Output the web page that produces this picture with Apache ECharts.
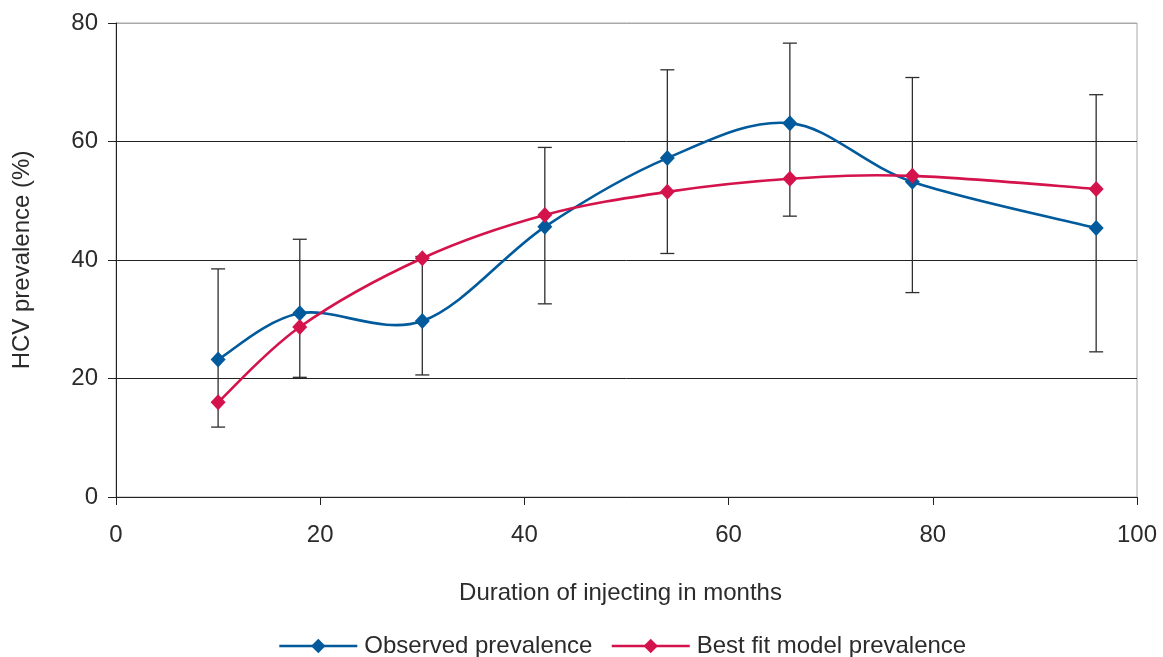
<!DOCTYPE html>
<html>
<head>
<meta charset="utf-8">
<script src="https://cdn.jsdelivr.net/npm/echarts@6/dist/echarts.min.js"></script>
<style>
html,body{margin:0;padding:0;background:#fff;}
#chart{width:1163px;height:657px;}
</style>
</head>
<body>
<div id="chart"></div>
<script>
const months = [10, 18, 30, 42, 54, 66, 78, 96];
const observed = [23.2, 31.0, 29.7, 45.6, 57.2, 63.1, 53.2, 45.4];
const bestFit = [16.0, 28.7, 40.3, 47.6, 51.5, 53.7, 54.2, 52.0];
const errLow = [11.8, 20.2, 20.6, 32.6, 41.1, 47.4, 34.5, 24.5];
const errHigh = [38.5, 43.5, 40.6, 59.0, 72.1, 76.6, 70.8, 67.9];
const seriesNames = ['Observed prevalence', 'Best fit model prevalence'];
const xTitle = 'Duration of injecting in months';
const yTitle = 'HCV prevalence (%)';

const FONT = 'Liberation Sans';
const TXT = '#2b2b2b';
const BLUE = '#005a9b';
const RED = '#d4134c';
const FS = 24;

const chart = echarts.init(document.getElementById('chart'), null, {renderer: 'canvas'});

const errData = months.map((m, i) => [m, errLow[i], errHigh[i]]);

// Segment rows for a Catmull-Rom (Excel-style) smoothed line:
// [xPrev, yPrev, x0, y0, x1, y1, xNext, yNext]
function segments(xs, ys) {
  const rows = [];
  const n = xs.length;
  for (let i = 0; i < n - 1; i++) {
    const p = Math.max(i - 1, 0);
    const q = Math.min(i + 2, n - 1);
    rows.push([xs[p], ys[p], xs[i], ys[i], xs[i + 1], ys[i + 1], xs[q], ys[q]]);
  }
  return rows;
}

function curveRenderer(color) {
  return function (params, api) {
    const a = api.coord([api.value(0), api.value(1)]);
    const b = api.coord([api.value(2), api.value(3)]);
    const c = api.coord([api.value(4), api.value(5)]);
    const d = api.coord([api.value(6), api.value(7)]);
    const k = 1 / 6;
    const cp1 = [b[0] + (c[0] - a[0]) * k, b[1] + (c[1] - a[1]) * k];
    const cp2 = [c[0] - (d[0] - b[0]) * k, c[1] - (d[1] - b[1]) * k];
    return {
      type: 'bezierCurve',
      shape: {x1: b[0], y1: b[1], x2: c[0], y2: c[1], cpx1: cp1[0], cpy1: cp1[1], cpx2: cp2[0], cpy2: cp2[1]},
      style: {stroke: color, lineWidth: 2.6, fill: null, lineCap: 'round'}
    };
  };
}

chart.setOption({
  animation: false,
  backgroundColor: '#fff',
  grid: {left: 116, right: 26, top: 23, bottom: 160, show: true, borderColor: '#a8a8a8', borderWidth: 1},
  legend: {
    bottom: -6,
    left: 273,
    data: seriesNames,
    itemWidth: 78,
    itemHeight: 18,
    itemGap: 18,
    lineStyle: {width: 2.6, opacity: 1},
    textStyle: {fontFamily: FONT, fontSize: FS, color: TXT, padding: [0, 0, 0, 2]}
  },
  xAxis: {
    type: 'value', min: 0, max: 100, interval: 20,
    name: xTitle, nameLocation: 'middle', nameGap: 84,
    nameTextStyle: {fontFamily: FONT, fontSize: FS, color: TXT, padding: [0, 12, 0, 0]},
    axisLine: {show: true, onZero: false, lineStyle: {color: '#222', width: 1}},
    axisTick: {show: true, length: 8, lineStyle: {color: '#222'}},
    axisLabel: {fontFamily: FONT, fontSize: FS, color: TXT, margin: 26},
    splitLine: {show: false}
  },
  yAxis: {
    type: 'value', min: 0, max: 80, interval: 20,
    name: yTitle, nameLocation: 'middle', nameGap: 82,
    nameTextStyle: {fontFamily: FONT, fontSize: FS, color: TXT},
    axisLine: {show: true, lineStyle: {color: '#222', width: 1}},
    axisTick: {show: true, length: 8, lineStyle: {color: '#222'}},
    axisLabel: {fontFamily: FONT, fontSize: FS, color: TXT, margin: 18},
    splitLine: {show: true, lineStyle: {color: ['#222', '#222', '#222', '#222', '#a8a8a8'], width: 1}}
  },
  series: [
    {
      type: 'custom',
      name: 'error',
      z: 1,
      silent: true,
      data: errData,
      encode: {x: 0, y: [1, 2]},
      renderItem: function (params, api) {
        const x = api.value(0);
        const lo = api.coord([x, api.value(1)]);
        const hi = api.coord([x, api.value(2)]);
        const hw = 7;
        const style = {stroke: '#2e2e2e', lineWidth: 1.3, fill: null};
        return {
          type: 'group',
          children: [
            {type: 'line', shape: {x1: lo[0], y1: lo[1], x2: hi[0], y2: hi[1]}, style: style},
            {type: 'line', shape: {x1: lo[0] - hw, y1: lo[1], x2: lo[0] + hw, y2: lo[1]}, style: style},
            {type: 'line', shape: {x1: hi[0] - hw, y1: hi[1], x2: hi[0] + hw, y2: hi[1]}, style: style}
          ]
        };
      }
    },
    {
      type: 'custom',
      name: 'observedCurve',
      z: 2,
      silent: true,
      data: segments(months, observed),
      encode: {x: [0, 2, 4, 6], y: [1, 3, 5, 7]},
      renderItem: curveRenderer(BLUE)
    },
    {
      type: 'line',
      name: seriesNames[0],
      z: 3,
      data: months.map((m, i) => [m, observed[i]]),
      symbol: 'diamond',
      symbolSize: [15, 16],
      lineStyle: {color: BLUE, width: 2.6, opacity: 0},
      itemStyle: {color: BLUE, borderWidth: 0}
    },
    {
      type: 'custom',
      name: 'bestFitCurve',
      z: 4,
      silent: true,
      data: segments(months, bestFit),
      encode: {x: [0, 2, 4, 6], y: [1, 3, 5, 7]},
      renderItem: curveRenderer(RED)
    },
    {
      type: 'line',
      name: seriesNames[1],
      z: 5,
      data: months.map((m, i) => [m, bestFit[i]]),
      symbol: 'diamond',
      symbolSize: [15, 16],
      lineStyle: {color: RED, width: 2.6, opacity: 0},
      itemStyle: {color: RED, borderWidth: 0}
    }
  ]
});
</script>
</body>
</html>
